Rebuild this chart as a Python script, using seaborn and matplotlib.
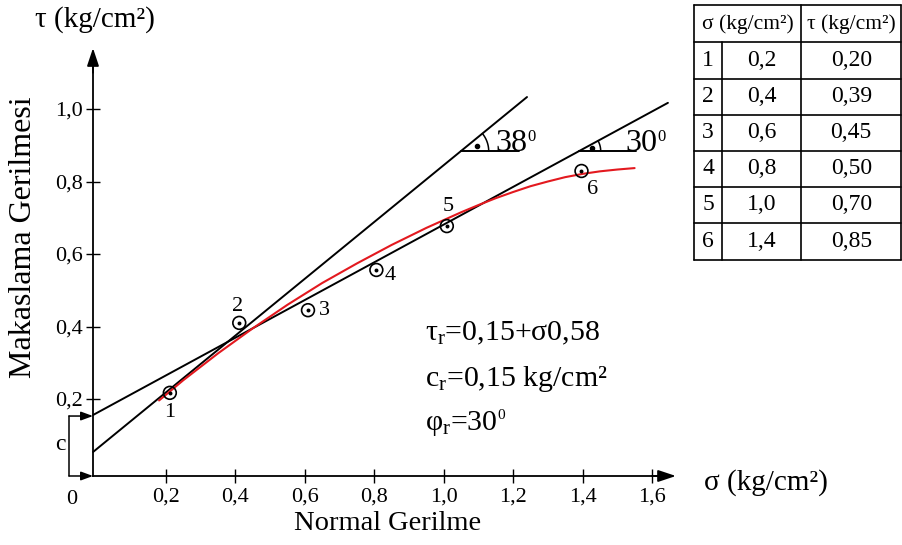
import numpy as np
import matplotlib
matplotlib.use("Agg")
import matplotlib.pyplot as plt
import seaborn as sns

# ------------------------------------------------------------------
# data
# ------------------------------------------------------------------
point_id = ["1", "2", "3", "4", "5", "6"]
point_sigma = [0.211, 0.411, 0.609, 0.806, 1.009, 1.397]
point_tau = [0.217, 0.410, 0.445, 0.556, 0.677, 0.829]

# table in the top right corner
table_sigma = [0.2, 0.4, 0.6, 0.8, 1.0, 1.4]
table_tau = [0.20, 0.39, 0.45, 0.50, 0.70, 0.85]

# red hand-drawn curve through the points
curve_sigma = [0.18, 0.25, 0.35, 0.45, 0.55, 0.65, 0.75, 0.85, 0.95,
               1.05, 1.10, 1.15, 1.20, 1.25, 1.30, 1.35, 1.40, 1.45, 1.50, 1.55]
curve_tau = [0.196, 0.252, 0.326, 0.395, 0.460, 0.520, 0.574, 0.625, 0.672,
             0.715, 0.735, 0.754, 0.771, 0.787, 0.800, 0.812, 0.821, 0.828, 0.833, 0.837]

# straight envelopes (38 deg peak line, 30 deg residual line)
steep_sigma = [-0.01, 1.24]
steep_tau = [0.054, 1.033]
resid_sigma = [-0.01, 1.646]
resid_tau = [0.156, 1.017]

xticks = [0.2, 0.4, 0.6, 0.8, 1.0, 1.2, 1.4, 1.6]
yticks = [0.2, 0.4, 0.6, 0.8, 1.0]

def comma(v, nd=1):
    return f"{v:.{nd}f}".replace(".", ",")

# ------------------------------------------------------------------
# style
# ------------------------------------------------------------------
sns.set_theme(style="white", rc={"axes.edgecolor": "black", "text.color": "black",
                                 "xtick.color": "black", "ytick.color": "black"})
plt.rcParams["font.family"] = ["Liberation Serif", "DejaVu Serif"]
plt.rcParams["mathtext.fontset"] = "custom"
plt.rcParams["mathtext.rm"] = "Liberation Serif"
plt.rcParams["mathtext.it"] = "Liberation Serif:italic"
plt.rcParams["mathtext.default"] = "regular"

W, H = 903, 545
fig = plt.figure(figsize=(W / 100, H / 100), dpi=100)
ax = fig.add_axes([0, 0, 1, 1])
X0, XS = 96.6, 347.1     # pixel of sigma=0, pixels per unit
Y0, YS = 471.5, 362.5    # pixel of tau=0, pixels per unit
ax.set_xlim(-X0 / XS, (W - X0) / XS)
ax.set_ylim((Y0 - H) / YS, Y0 / YS)

def P(px, py):
    return px / W, 1 - py / H

def sup(txt, s, size):
    # small raised "degree" digit right after a text artist
    ax.annotate(s, xy=(1.0, 0.97), xycoords=txt, ha="left", va="top",
                fontsize=size)

# axes with arrows
xa, ya = -0.0104, -0.0124
for s in ["top", "right"]:
    ax.spines[s].set_visible(False)
ax.spines["left"].set_position(("data", xa))
ax.spines["left"].set_bounds(ya, 1.14)
ax.spines["bottom"].set_position(("data", ya))
ax.spines["bottom"].set_bounds(xa, 1.64)
for s in ["left", "bottom"]:
    ax.spines[s].set_linewidth(1.3)
arrow = dict(arrowstyle="-|>,head_length=0.9,head_width=0.3", color="black",
             lw=1.3, shrinkA=0, shrinkB=0)
ax.annotate("", xy=(xa, 1.168), xytext=(xa, 1.10), arrowprops=arrow)
ax.annotate("", xy=(1.669, ya), xytext=(1.60, ya), arrowprops=arrow)

ax.set_xticks(xticks, [comma(v) for v in xticks])
ax.set_yticks(yticks, [comma(v) for v in yticks])
ax.tick_params(axis="both", direction="inout", length=10, width=1,
               bottom=True, left=True, labelsize=16)
ax.tick_params(axis="x", pad=3)
ax.tick_params(axis="y", pad=2)
ax.set_xlabel("")
ax.set_ylabel("")
ax.annotate("0", xy=(-0.071, ya), xytext=(0, -10), textcoords="offset points",
            ha="center", va="top", fontsize=16)

# c bracket
cx = -0.0795
ax.plot([cx, cx], [ya, 0.153], color="black", lw=1.1)
for yy in [0.153, ya]:
    ax.annotate("", xy=(xa, yy), xytext=(cx, yy),
                arrowprops=dict(arrowstyle="-|>,head_length=0.6,head_width=0.22",
                                color="black", lw=1.1, shrinkA=0, shrinkB=0))
ax.text(-0.105, 0.075, "c", fontsize=17, ha="center", va="center")

# lines
sns.lineplot(x=steep_sigma, y=steep_tau, color="black", lw=1.4, ax=ax)
sns.lineplot(x=resid_sigma, y=resid_tau, color="black", lw=1.4, ax=ax)
sns.lineplot(x=curve_sigma, y=curve_tau, color="#e3191f", lw=1.5, ax=ax, zorder=4)

# angle markers
def angle_mark(line_x, line_y, x0, x_end, r, label, lx):
    slope = (line_y[1] - line_y[0]) / (line_x[1] - line_x[0])
    y0 = line_y[0] + slope * (x0 - line_x[0])
    ax.plot([x0, x_end], [y0, y0], color="black", lw=1.4)
    ang = np.arctan(slope * YS / XS)
    t = np.linspace(0, ang, 30)
    ax.plot(x0 + r * np.cos(t) / XS, y0 + r * np.sin(t) / YS, color="black", lw=1.1)
    ax.plot(x0 + 0.6 * r * np.cos(ang / 2) / XS, y0 + 0.6 * r * np.sin(ang / 2) / YS,
            "o", color="black", ms=3)
    t = fig.text(*P(lx, 143), label, fontsize=23, ha="left", va="center")
    sup(t, "0", 12)

angle_mark(steep_sigma, steep_tau, 1.049, 1.217, 28, "38", 495)
angle_mark(resid_sigma, resid_tau, 1.389, 1.554, 22, "30", 625)

# measured points
sns.scatterplot(x=point_sigma, y=point_tau, s=85, marker="o", color="black",
                facecolor="none", edgecolor="black", linewidth=1.2, ax=ax, zorder=5)
sns.scatterplot(x=point_sigma, y=point_tau, s=8, marker="o", color="black",
                linewidth=0, ax=ax, zorder=6)
label_offsets = [(0, -14), (-1, 12), (12, 0), (10, -4), (1, 14), (8, -13)]
for pid, sx, ty, off in zip(point_id, point_sigma, point_tau, label_offsets):
    ax.annotate(pid, xy=(sx, ty), xytext=off, textcoords="offset points",
                ha="center", va="center", fontsize=16)

# equation block
fig.text(*P(425, 333), "τ$_r$=0,15+σ0,58", fontsize=21.5, ha="left", va="center")
fig.text(*P(425, 379), "c$_r$=0,15 kg/cm²", fontsize=21.5, ha="left", va="center")
phi = fig.text(*P(425, 423), "φ$_r$=30", fontsize=21.5, ha="left", va="center")
sup(phi, "0", 11)

# axis titles
fig.text(*P(95, 20), "τ (kg/cm²)", fontsize=21, ha="center", va="center")
fig.text(*P(766, 483), "σ (kg/cm²)", fontsize=21, ha="center", va="center")
fig.text(*P(388, 523), "Normal Gerilme", fontsize=20.5, ha="center", va="center")
fig.text(*P(24, 237), "Makaslama Gerilmesi", fontsize=23, ha="center",
         va="center", rotation=90)

# table
tx = [694, 722, 801, 901.5]
ty = [5, 42, 78.5, 114.5, 150.5, 186.5, 223, 260]
tk = dict(color="black", lw=1.2, transform=fig.transFigure, clip_on=False)
for yy in ty:
    ax.plot([tx[0] / W, tx[-1] / W], [1 - yy / H, 1 - yy / H], **tk)
for i, xx in enumerate(tx):
    top = ty[1] if i == 1 else ty[0]
    ax.plot([xx / W, xx / W], [1 - top / H, 1 - ty[-1] / H], **tk)
fig.text(*P((tx[0] + tx[2]) / 2, 24), "σ (kg/cm²)", fontsize=15.5, ha="center", va="center")
fig.text(*P((tx[2] + tx[3]) / 2, 24), "τ (kg/cm²)", fontsize=15.5, ha="center", va="center")
for i, (s, t) in enumerate(zip(table_sigma, table_tau)):
    yc = (ty[i + 1] + ty[i + 2]) / 2
    fig.text(*P((tx[0] + tx[1]) / 2, yc), point_id[i], fontsize=17, ha="center", va="center")
    fig.text(*P((tx[1] + tx[2]) / 2, yc), comma(s, 1), fontsize=17, ha="center", va="center")
    fig.text(*P((tx[2] + tx[3]) / 2, yc), comma(t, 2), fontsize=17, ha="center", va="center")

fig.savefig("out.png", dpi=100, facecolor="white")
